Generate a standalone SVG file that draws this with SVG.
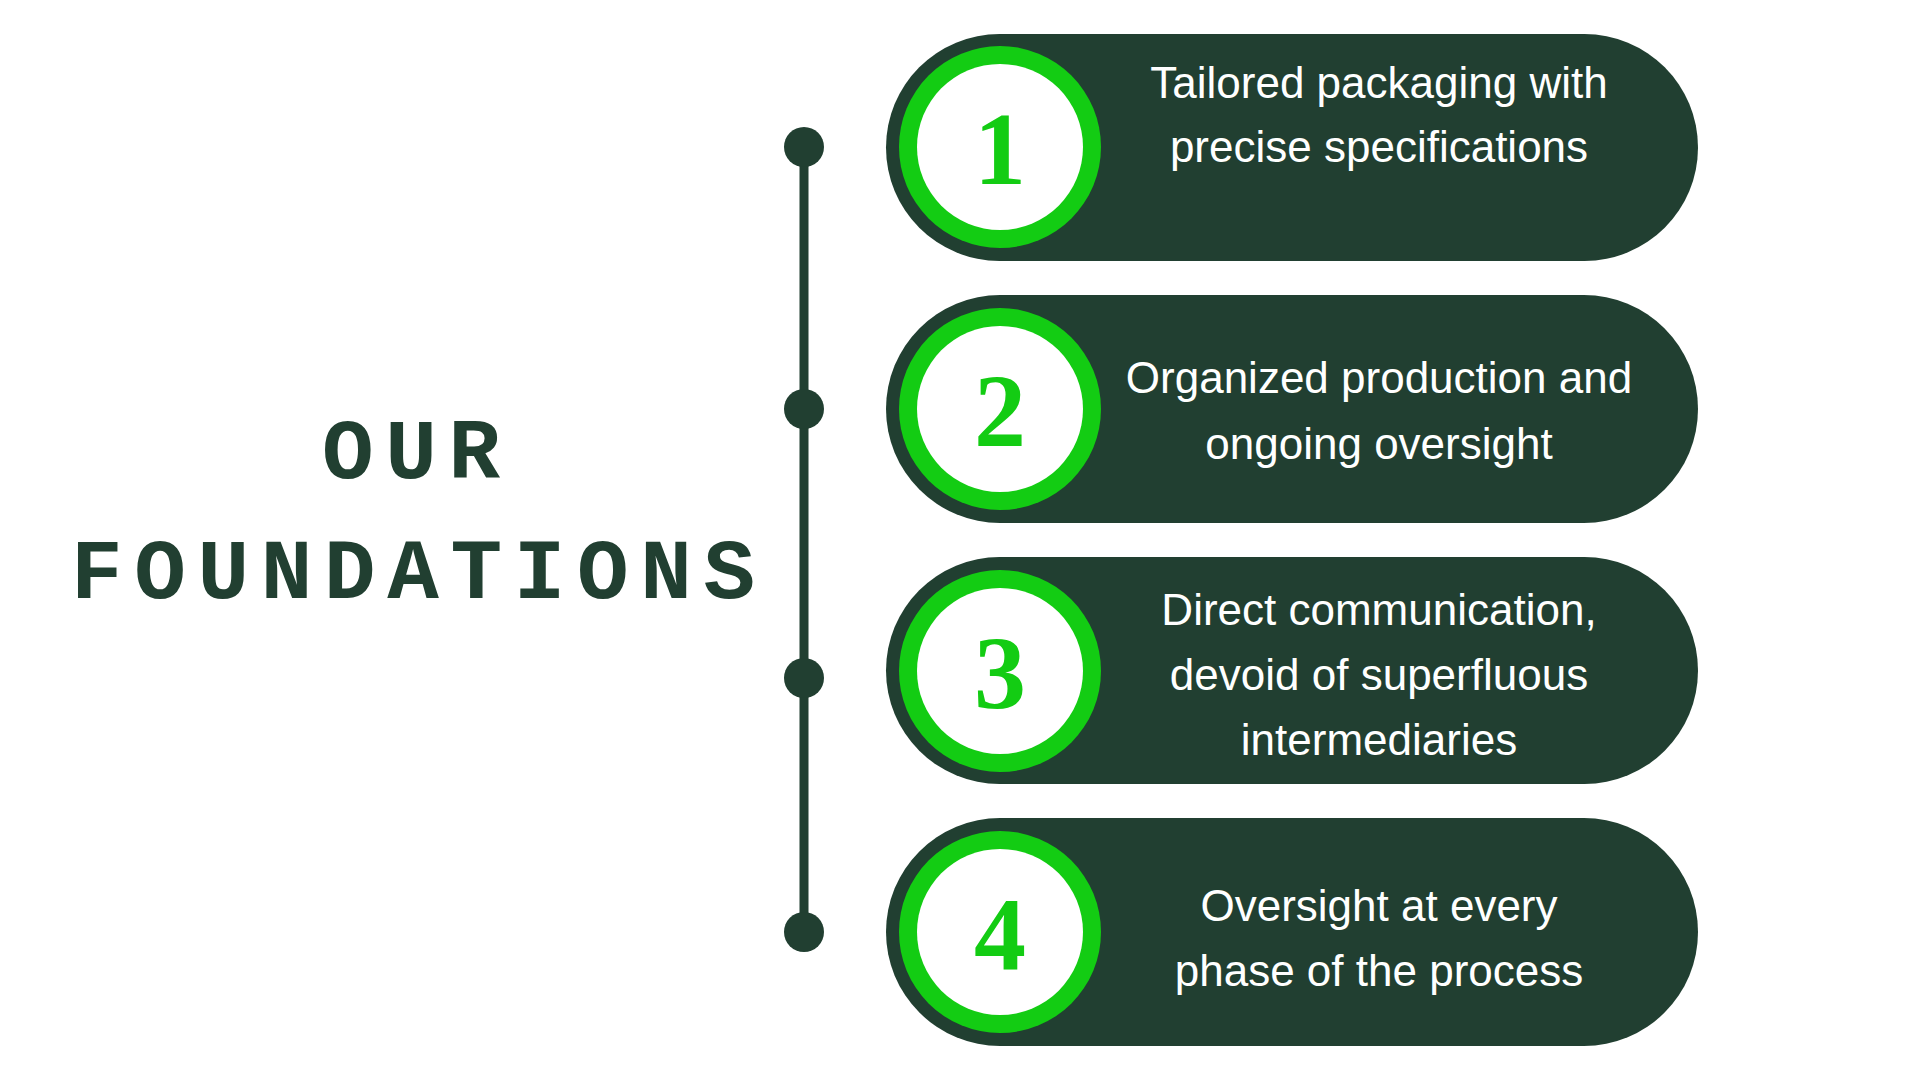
<svg xmlns="http://www.w3.org/2000/svg" width="1920" height="1080" viewBox="0 0 1920 1080">
<style>
.pill{fill:#213f31}
.ring{fill:#13cc13}
.inner{fill:#ffffff}
.num{font-family:"Liberation Serif",serif;font-weight:bold;font-size:104px;fill:#13cc13;text-anchor:middle}
.txt{font-family:"Liberation Sans",sans-serif;font-size:44px;fill:#ffffff;text-anchor:middle}
.title{font-family:"Liberation Mono",monospace;font-weight:bold;font-size:86px;fill:#213f31}
.dot{fill:#213f31}
</style>
<rect width="1920" height="1080" fill="#ffffff"/>
<g id="title">
<text class="title" x="322" y="478" textLength="178" lengthAdjust="spacing">OUR</text>
<text class="title" x="71" y="598" textLength="684" lengthAdjust="spacing">FOUNDATIONS</text>
</g>
<g id="connectors">
<line x1="804" y1="147" x2="804" y2="932" stroke="#213f31" stroke-width="9"/>
<circle class="dot" cx="804" cy="147" r="20"/>
<circle class="dot" cx="804" cy="409" r="20"/>
<circle class="dot" cx="804" cy="678" r="20"/>
<circle class="dot" cx="804" cy="932" r="20"/>
</g>
<g id="node1">
<rect class="pill" x="886" y="34" width="812" height="227" rx="113.5"/>
<circle class="ring" cx="1000" cy="147" r="101"/>
<circle class="inner" cx="1000" cy="147" r="83"/>
<text class="num" x="1000" y="184">1</text>
<text class="txt" x="1379" y="98">Tailored packaging with</text>
<text class="txt" x="1379" y="162">precise specifications</text>
</g>
<g id="node2">
<rect class="pill" x="886" y="295" width="812" height="228" rx="114"/>
<circle class="ring" cx="1000" cy="409" r="101"/>
<circle class="inner" cx="1000" cy="409" r="83"/>
<text class="num" x="1000" y="446">2</text>
<text class="txt" x="1379" y="393">Organized production and</text>
<text class="txt" x="1379" y="459">ongoing oversight</text>
</g>
<g id="node3">
<rect class="pill" x="886" y="557" width="812" height="227" rx="113.5"/>
<circle class="ring" cx="1000" cy="671" r="101"/>
<circle class="inner" cx="1000" cy="671" r="83"/>
<text class="num" x="1000" y="708">3</text>
<text class="txt" x="1379" y="625">Direct communication,</text>
<text class="txt" x="1379" y="690">devoid of superfluous</text>
<text class="txt" x="1379" y="755">intermediaries</text>
</g>
<g id="node4">
<rect class="pill" x="886" y="818" width="812" height="228" rx="114"/>
<circle class="ring" cx="1000" cy="932" r="101"/>
<circle class="inner" cx="1000" cy="932" r="83"/>
<text class="num" x="1000" y="969">4</text>
<text class="txt" x="1379" y="921">Oversight at every</text>
<text class="txt" x="1379" y="986">phase of the process</text>
</g>
</svg>
